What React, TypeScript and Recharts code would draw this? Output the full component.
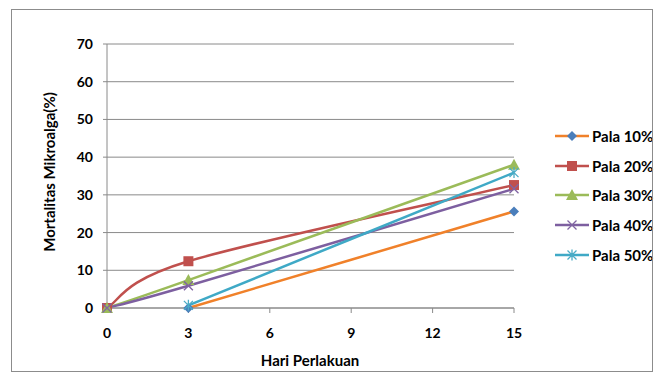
import React from 'react';
import { LineChart, Line, XAxis, YAxis, CartesianGrid } from 'recharts';

// Days of treatment (x values)
const days = [0, 3, 15];

// Mortality (%) per concentration
const pala10 = [null, 0, 25.6];
const pala20 = [0, 12.4, 32.6];
const pala30 = [0, 7.4, 38];
const pala40 = [0, 5.9, 31.6];
const pala50 = [null, 0.7, 35.9];

const xTicks = [0, 3, 6, 9, 12, 15];
const yTicks = [0, 10, 20, 30, 40, 50, 60, 70];

const FONT = 'Lato, "Open Sans", sans-serif';

type Marker = 'diamond' | 'square' | 'triangle' | 'cross' | 'star';

const series: { key: string; name: string; values: (number | null)[]; line: string; mark: string; marker: Marker }[] = [
  { key: 'p10', name: 'Pala 10%', values: pala10, line: '#F0812A', mark: '#4A7EBB', marker: 'diamond' },
  { key: 'p20', name: 'Pala 20%', values: pala20, line: '#C0504D', mark: '#C0504D', marker: 'square' },
  { key: 'p30', name: 'Pala 30%', values: pala30, line: '#9BBB59', mark: '#9BBB59', marker: 'triangle' },
  { key: 'p40', name: 'Pala 40%', values: pala40, line: '#7D5FA0', mark: '#8064A2', marker: 'cross' },
  { key: 'p50', name: 'Pala 50%', values: pala50, line: '#3FA9C6', mark: '#4BACC6', marker: 'star' },
];

const data = days.map((d, i) => {
  const row: Record<string, number | null> = { day: d };
  series.forEach((s) => {
    row[s.key] = s.values[i];
  });
  return row;
});

// Excel-style smoothed line (Catmull-Rom style bezier, tension 1/6)
const excelSmooth = (context: any) => {
  let pts: [number, number][] = [];
  return {
    areaStart() {},
    areaEnd() {},
    lineStart() {
      pts = [];
    },
    point(x: number, y: number) {
      pts.push([+x, +y]);
    },
    lineEnd() {
      if (!pts.length) return;
      context.moveTo(pts[0][0], pts[0][1]);
      for (let i = 0; i < pts.length - 1; i++) {
        const p0 = pts[i - 1] || pts[i];
        const p1 = pts[i];
        const p2 = pts[i + 1];
        const p3 = pts[i + 2] || pts[i + 1];
        context.bezierCurveTo(
          p1[0] + (p2[0] - p0[0]) / 6,
          p1[1] + (p2[1] - p0[1]) / 6,
          p2[0] - (p3[0] - p1[0]) / 6,
          p2[1] - (p3[1] - p1[1]) / 6,
          p2[0],
          p2[1]
        );
      }
    },
  };
};

function markerShape(kind: Marker, color: string, cx: number, cy: number) {
  const r = 5;
  switch (kind) {
    case 'diamond':
      return <path d={`M${cx},${cy - r} L${cx + r},${cy} L${cx},${cy + r} L${cx - r},${cy} Z`} fill={color} />;
    case 'square':
      return <rect x={cx - r} y={cy - r} width={r * 2} height={r * 2} fill={color} />;
    case 'triangle':
      return <path d={`M${cx},${cy - r - 1} L${cx + r + 1},${cy + r} L${cx - r - 1},${cy + r} Z`} fill={color} />;
    case 'cross':
      return (
        <path d={`M${cx - 4.5},${cy - 4.5} L${cx + 4.5},${cy + 4.5} M${cx - 4.5},${cy + 4.5} L${cx + 4.5},${cy - 4.5}`} stroke={color} strokeWidth={1.3} fill="none" />
      );
    case 'star':
      return (
        <path
          d={`M${cx - 4.5},${cy - 4.5} L${cx + 4.5},${cy + 4.5} M${cx - 4.5},${cy + 4.5} L${cx + 4.5},${cy - 4.5} M${cx},${cy - 5.5} L${cx},${cy + 5.5}`}
          stroke={color}
          strokeWidth={1.3}
          fill="none"
        />
      );
  }
}

const makeDot = (kind: Marker, color: string) => (props: any) => {
  const { cx, cy, index, value } = props;
  if (cx == null || cy == null || value == null) return <g key={index} />;
  return <g key={index}>{markerShape(kind, color, cx, cy)}</g>;
};

const LegendBox = () => (
  <div style={{ position: 'absolute', left: 555, top: 121, width: 97, fontFamily: FONT, fontWeight: 700, fontSize: 15 }}>
    {series.map((s) => (
      <div key={s.key} style={{ display: 'flex', alignItems: 'center', height: 29.7 }}>
        <svg width={34} height={14} style={{ flex: 'none' }}>
          <line x1={0} y1={7} x2={34} y2={7} stroke={s.line} strokeWidth={2.5} />
          {markerShape(s.marker, s.mark, 17, 7)}
        </svg>
        <span style={{ marginLeft: 3, whiteSpace: 'nowrap' }}>{s.name}</span>
      </div>
    ))}
  </div>
);

export default function App() {
  return (
    <div style={{ position: 'absolute', left: 0, top: 0, width: 663, height: 372, background: '#fff', overflow: 'hidden' }}>
      <LineChart width={663} height={372} data={data} margin={{ top: 44, right: 149, bottom: 34, left: 47 }}>
        <CartesianGrid vertical={false} stroke="#8a8a8a" strokeWidth={1} />
        <XAxis
          dataKey="day"
          type="number"
          domain={[0, 15]}
          ticks={xTicks}
          stroke="#8a8a8a"
          tickSize={5}
          tickMargin={15}
          tick={{ fill: '#000', fontFamily: FONT, fontWeight: 700, fontSize: 14 }}
          height={30}
        />
        <YAxis
          type="number"
          domain={[0, 70]}
          ticks={yTicks}
          width={60}
          stroke="#8a8a8a"
          tickSize={4}
          tickMargin={10}
          tick={{ fill: '#000', fontFamily: FONT, fontWeight: 700, fontSize: 14 }}
        />
        {series.map((s) => (
          <Line
            key={s.key}
            dataKey={s.key}
            name={s.name}
            type={excelSmooth as any}
            stroke={s.line}
            strokeWidth={2.5}
            dot={makeDot(s.marker, s.mark)}
            activeDot={false}
            isAnimationActive={false}
          />
        ))}
        <text x={51} y={172} transform="rotate(-90, 51, 172)" textAnchor="middle" dominantBaseline="middle" fontFamily={FONT} fontWeight={700} fontSize={15}>
          Mortalitas Mikroalga(%)
        </text>
        <text x={310} y={366} textAnchor="middle" fontFamily={FONT} fontWeight={700} fontSize={15}>
          Hari Perlakuan
        </text>
      </LineChart>
      <LegendBox />
      <div style={{ position: 'absolute', left: 11, top: 9, width: 640, height: 361, border: '1px solid #8c8c8c', pointerEvents: 'none' }} />
    </div>
  );
}
